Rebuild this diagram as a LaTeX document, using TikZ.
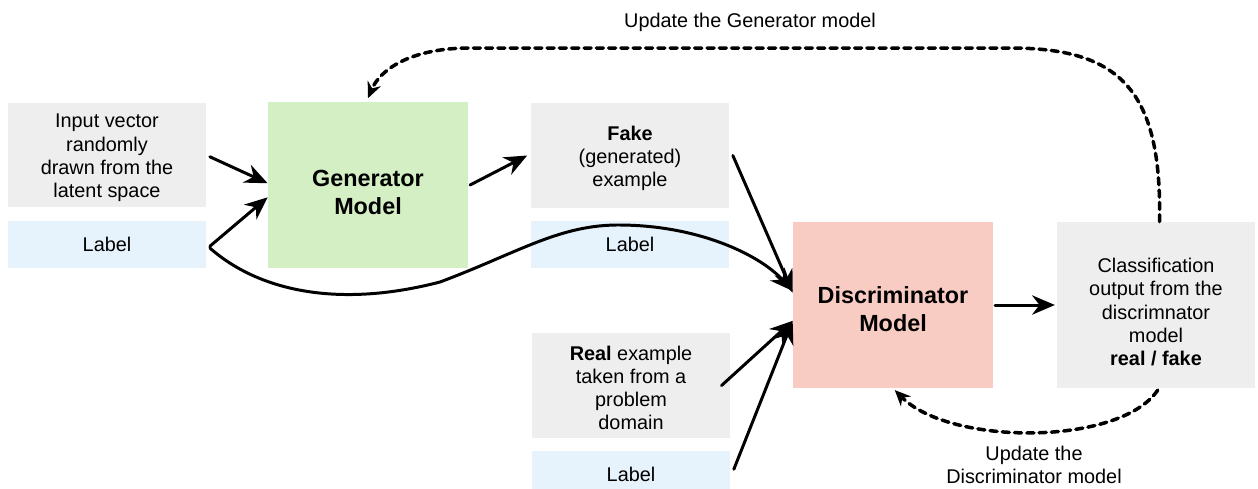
\documentclass[tikz,border=0pt]{standalone}
\usepackage{fontspec}
\setmainfont{Liberation Sans}
\usetikzlibrary{arrows.meta}
\definecolor{boxgray}{RGB}{238,238,238}
\definecolor{boxblue}{RGB}{231,243,252}
\definecolor{gencol}{RGB}{212,239,196}
\definecolor{disccol}{RGB}{248,204,195}
\begin{document}
\begin{tikzpicture}[x=0.02cm,y=-0.02cm,line join=round,line cap=round,
		font=\fontsize{11.3}{13.2}\selectfont,
		box/.style={fill=boxgray,minimum width=3.96cm,minimum height=2.1cm,align=center,inner sep=0pt},
		lbl/.style={fill=boxblue,minimum width=3.96cm,minimum height=0.94cm,inner sep=0pt},
		model/.style={minimum width=4cm,minimum height=3.32cm,align=center,inner sep=0pt,font=\fontsize{13.3}{16}\selectfont\bfseries},
		arr/.style={-{Stealth[length=13pt,width=11pt]},line width=1.7pt},
		upd/.style={-{Stealth[length=9pt,width=8pt]},line width=2pt,dash pattern=on 4pt off 3pt}]
	\useasboundingbox (0,0) rectangle (1258,488);
	% left column
	\node[box,text height=50.7pt] (inp) at (107,155) {Input vector\\randomly\\drawn from the\\latent space};
	\node[lbl] (lab1) at (107,244.5) {Label};
	\node[model,fill=gencol,text height=34pt] (gen) at (368,185) {Generator\\Model};
	% middle column
	\node[box,text height=38pt] (fake) at (630,155.5) {\textbf{Fake}\\(generated)\\example};
	\node[lbl] (lab2) at (630,244.5) {Label};
	\node[box,text height=50.5pt] (real) at (631,385.5) {\textbf{Real} example\\taken from a\\problem\\domain};
	\node[lbl] (lab3) at (631,474.5) {Label};
	% right column
	\node[model,fill=disccol,text height=30pt] (disc) at (893,305) {Discriminator\\Model};
	\node[box,minimum height=3.32cm,text height=69pt] (cls) at (1156,305) {Classification\\output from the\\discrimnator\\model\\\textbf{real / fake}};
	% data flow
	\draw[arr] ([xshift=2pt,yshift=-1pt]inp.east) -- ([yshift=1pt]gen.west);
	\draw[arr] ([xshift=2pt,yshift=-1pt]lab1.east) -- ([yshift=-7pt]gen.west);
	\draw[arr] ([xshift=1pt]gen.east) -- ([xshift=-2pt]fake.west);
	\draw[arr] ([xshift=2pt]fake.east) -- ([yshift=7pt]disc.west);
	\draw[arr] ([xshift=2pt,yshift=-2pt]lab1.east) .. controls (260,292) and (340,308) .. (440,282)
		.. controls (520,252) and (560,224) .. (622,225) .. controls (700,226) and (760,255) .. ([yshift=8pt]disc.west);
	\draw[arr] ([xshift=-5pt]real.east) -- ([yshift=-9pt]disc.west);
	\draw[arr] ([xshift=2pt,yshift=3pt]lab3.east) -- ([yshift=-9pt]disc.west);
	\draw[arr] ([xshift=1pt]disc.east) -- ([xshift=-1pt]cls.west);
	% update loops
	\draw[upd] ([xshift=2pt]cls.north) .. controls (1162,90) and (1120,48) .. (1010,48) -- (470,48)
		.. controls (410,48) and (380,70) .. ([yshift=2pt]gen.north);
	\node (updg) at (750,22) {Update the Generator model};
	\draw[upd] ([xshift=1pt,yshift=-1pt]cls.south) .. controls (1120,446) and (950,446) .. ([xshift=1pt,yshift=-1pt]disc.south);
	\node[align=center] (updd) at (1034,465) {Update the\\Discriminator model};
\end{tikzpicture}
\end{document}
